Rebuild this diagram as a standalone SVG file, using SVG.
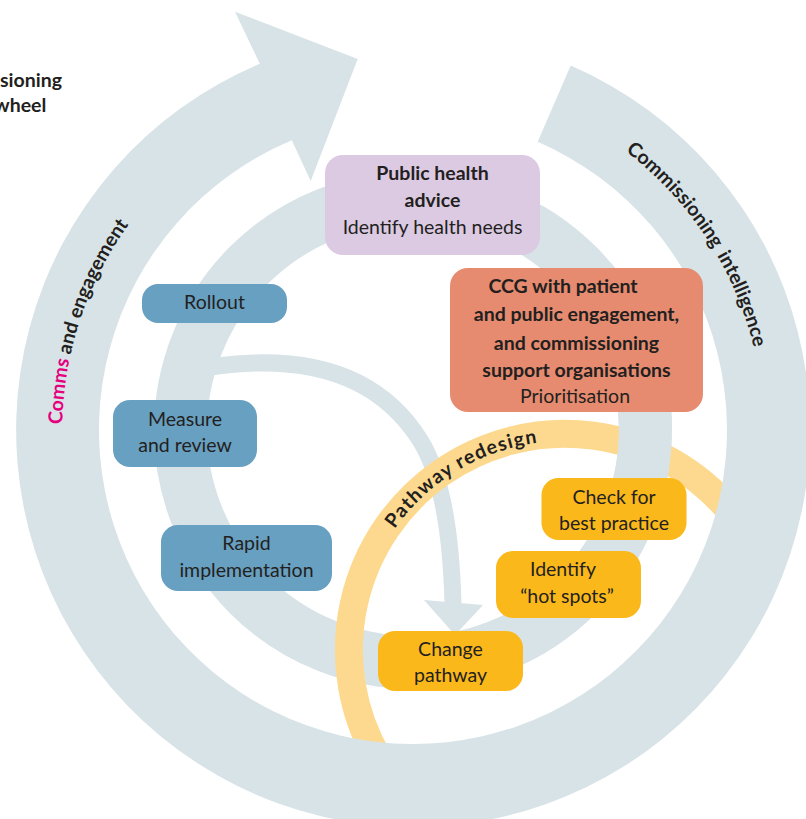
<svg xmlns="http://www.w3.org/2000/svg" width="806" height="819" viewBox="0 0 806 819">
  <style>
    .ring { fill: none; stroke: #D8E3E7; }
    .wheel { fill: #D8E3E7; }
    .path-ring { fill: none; stroke: #FDD98F; stroke-width: 28; }
    .lbl { font-family: Lato, "Open Sans", sans-serif; font-size: 19.5px; fill: #231F20; text-anchor: middle; }
    .b { font-weight: 700; }
    .ring-lbl { font-family: Lato, "Open Sans", sans-serif; font-size: 19.5px; font-weight: 700; fill: #231F20; }
    .blue { fill: #68A0C1; }
    .amber { fill: #FBB81A; }
  </style>
  <defs>
    <path id="arcComms" d="M 99.1,587.2 A 352 352 0 0 1 255.8,116.1"/>
    <path id="arcIntel" d="M 480,85.5 A 352 352 0 0 1 757.5,497"/>
    <path id="arcPathway" d="M 362.2,599.4 A 209 209 0 0 1 615.6,447.2"/>
  </defs>

  <!-- title (cropped at the left edge) -->
  <g id="title">
    <text class="ring-lbl" x="0" y="87">sioning</text>
    <text class="ring-lbl" x="-6" y="112">wheel</text>
  </g>

  <g id="connectors">
    <!-- middle ring -->
    <circle class="ring" cx="413" cy="430" r="232.5" stroke-width="53"/>
    <!-- inner arrow branching off the middle ring -->
    <path class="ring" stroke-width="17" d="M 210,367 Q 360,345 420,440 Q 450,487.5 453,604"/>
    <polygon class="wheel" points="424,600 483,605 455,635"/>
    <!-- pathway redesign ring -->
    <path class="path-ring" d="M 377.9,758 A 216 216 0 0 1 730.5,511.2"/>
    <!-- middle ring segment passing over the pathway ring -->
    <path class="ring" stroke-width="53" d="M 591.1,280.6 A 232.5 232.5 0 0 1 591.1,579.4"/>
    <!-- outer wheel arrow -->
    <path class="wheel" d="M 570.7,65.6 A 397 397 0 1 1 259.8,63.8 L 235,11.7 L 357.7,59 L 310.7,181 L 291.8,140.3 A 314 314 0 1 0 537.7,141.8 Z"/>
  </g>

  <g id="ring-labels">
    <text class="ring-lbl"><textPath href="#arcComms" startOffset="50%" text-anchor="middle"><tspan fill="#E5007E">Comms</tspan> and engagement</textPath></text>
    <text class="ring-lbl"><textPath href="#arcIntel" startOffset="161">Commissioning</textPath></text>
    <text class="ring-lbl"><textPath href="#arcIntel" startOffset="400" text-anchor="end">intelligence</textPath></text>
    <text class="ring-lbl" letter-spacing="1.2"><textPath href="#arcPathway" startOffset="50%" text-anchor="middle">Pathway redesign</textPath></text>
  </g>

  <g id="public-health">
    <rect x="325" y="155" width="215" height="100" rx="18" fill="#DCCAE3"/>
    <text class="lbl b" x="432.5" y="180">Public health</text>
    <text class="lbl b" x="432.5" y="206.5">advice</text>
    <text class="lbl" x="432.5" y="234">Identify health needs</text>
  </g>

  <g id="ccg">
    <rect x="450" y="268" width="253" height="144" rx="18" fill="#E68B6F"/>
    <text class="lbl b" x="563" y="293">CCG with patient</text>
    <text class="lbl b" x="576.5" y="321">and public engagement,</text>
    <text class="lbl b" x="576.5" y="349.5">and commissioning</text>
    <text class="lbl b" x="576.5" y="377">support organisations</text>
    <text class="lbl" x="575" y="403">Prioritisation</text>
  </g>

  <g id="rollout">
    <rect class="blue" x="142" y="284" width="145" height="39" rx="16"/>
    <text class="lbl" x="214.5" y="309">Rollout</text>
  </g>

  <g id="measure-review">
    <rect class="blue" x="113" y="400" width="144" height="67" rx="17"/>
    <text class="lbl" x="185" y="425.5">Measure</text>
    <text class="lbl" x="185" y="452">and review</text>
  </g>

  <g id="rapid-implementation">
    <rect class="blue" x="161" y="525" width="171" height="66" rx="17"/>
    <text class="lbl" x="246.5" y="550">Rapid</text>
    <text class="lbl" x="246.5" y="577">implementation</text>
  </g>

  <g id="check-best-practice">
    <rect class="amber" x="541.5" y="478" width="145" height="62" rx="17"/>
    <text class="lbl" x="614" y="503.5">Check for</text>
    <text class="lbl" x="614" y="530">best practice</text>
  </g>

  <g id="identify-hot-spots">
    <rect class="amber" x="496" y="551" width="145" height="67" rx="17"/>
    <text class="lbl" x="563" y="576">Identify</text>
    <text class="lbl" x="567" y="603">“hot spots”</text>
  </g>

  <g id="change-pathway">
    <rect class="amber" x="378" y="631" width="145" height="60" rx="17"/>
    <text class="lbl" x="450.5" y="656">Change</text>
    <text class="lbl" x="450.5" y="682">pathway</text>
  </g>
</svg>
